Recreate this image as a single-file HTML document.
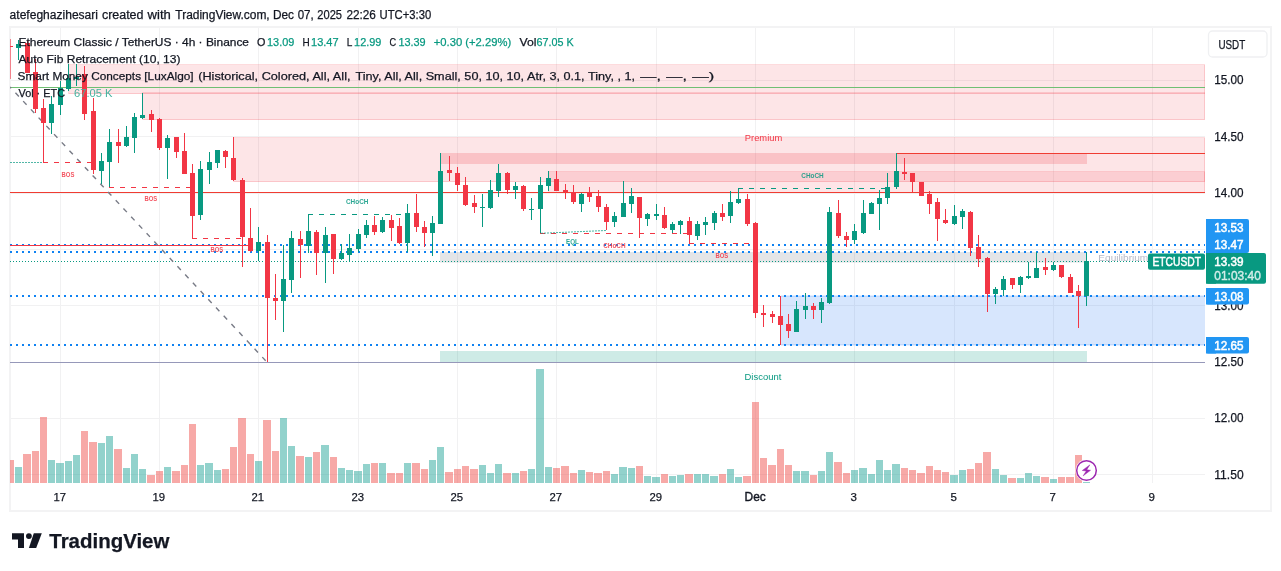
<!DOCTYPE html>
<html lang="en"><head><meta charset="utf-8"><title>ETCUSDT chart</title>
<style>html,body{margin:0;padding:0;background:#fff;width:1281px;height:571px;overflow:hidden}svg{display:block;will-change:transform}text{white-space:pre}</style>
</head><body>
<svg width="1281" height="571" viewBox="0 0 1281 571" style="display:block">
<rect x="0" y="0" width="1281" height="571" fill="#ffffff"/>
<rect x="10" y="27" width="1261" height="484" fill="none" stroke="#f3f3f4" stroke-width="2" shape-rendering="crispEdges"/>
<defs><clipPath id="pane"><rect x="10" y="27" width="1195" height="456"/></clipPath><clipPath id="pane2"><rect x="10" y="27" width="1195" height="456"/></clipPath></defs>
<g shape-rendering="crispEdges" stroke="#f1f1f2" stroke-width="1">
<line x1="60.5" y1="28" x2="60.5" y2="483"/>
<line x1="159.5" y1="28" x2="159.5" y2="483"/>
<line x1="258.5" y1="28" x2="258.5" y2="483"/>
<line x1="358.5" y1="28" x2="358.5" y2="483"/>
<line x1="457.5" y1="28" x2="457.5" y2="483"/>
<line x1="556.5" y1="28" x2="556.5" y2="483"/>
<line x1="656.5" y1="28" x2="656.5" y2="483"/>
<line x1="755.5" y1="28" x2="755.5" y2="483"/>
<line x1="854.5" y1="28" x2="854.5" y2="483"/>
<line x1="954.5" y1="28" x2="954.5" y2="483"/>
<line x1="1053.5" y1="28" x2="1053.5" y2="483"/>
<line x1="1152.5" y1="28" x2="1152.5" y2="483"/>
<line x1="11" y1="80.5" x2="1205" y2="80.5"/>
<line x1="11" y1="136.5" x2="1205" y2="136.5"/>
<line x1="11" y1="193.5" x2="1205" y2="193.5"/>
<line x1="11" y1="249.5" x2="1205" y2="249.5"/>
<line x1="11" y1="305.5" x2="1205" y2="305.5"/>
<line x1="11" y1="362.5" x2="1205" y2="362.5"/>
<line x1="11" y1="418.5" x2="1205" y2="418.5"/>
<line x1="11" y1="474.5" x2="1205" y2="474.5"/>
</g>
<g shape-rendering="crispEdges">
<rect x="10" y="460" width="4" height="23" fill="#ef5350" fill-opacity="0.5"/>
<rect x="15" y="467" width="7" height="16" fill="#26a69a" fill-opacity="0.5"/>
<rect x="23" y="454" width="8" height="29" fill="#ef5350" fill-opacity="0.5"/>
<rect x="32" y="451" width="7" height="32" fill="#ef5350" fill-opacity="0.5"/>
<rect x="40" y="417" width="7" height="66" fill="#ef5350" fill-opacity="0.5"/>
<rect x="48" y="460" width="7" height="23" fill="#26a69a" fill-opacity="0.5"/>
<rect x="56" y="463" width="8" height="20" fill="#26a69a" fill-opacity="0.5"/>
<rect x="65" y="461" width="7" height="22" fill="#26a69a" fill-opacity="0.5"/>
<rect x="73" y="455" width="7" height="28" fill="#26a69a" fill-opacity="0.5"/>
<rect x="81" y="431" width="7" height="52" fill="#ef5350" fill-opacity="0.5"/>
<rect x="89" y="442" width="8" height="41" fill="#ef5350" fill-opacity="0.5"/>
<rect x="98" y="443" width="7" height="40" fill="#26a69a" fill-opacity="0.5"/>
<rect x="106" y="436" width="7" height="47" fill="#26a69a" fill-opacity="0.5"/>
<rect x="114" y="449" width="8" height="34" fill="#ef5350" fill-opacity="0.5"/>
<rect x="123" y="468" width="7" height="15" fill="#26a69a" fill-opacity="0.5"/>
<rect x="131" y="454" width="7" height="29" fill="#26a69a" fill-opacity="0.5"/>
<rect x="139" y="469" width="7" height="14" fill="#26a69a" fill-opacity="0.5"/>
<rect x="147" y="475" width="8" height="8" fill="#ef5350" fill-opacity="0.5"/>
<rect x="156" y="471" width="7" height="12" fill="#ef5350" fill-opacity="0.5"/>
<rect x="164" y="467" width="7" height="16" fill="#26a69a" fill-opacity="0.5"/>
<rect x="172" y="471" width="8" height="12" fill="#ef5350" fill-opacity="0.5"/>
<rect x="181" y="465" width="7" height="18" fill="#ef5350" fill-opacity="0.5"/>
<rect x="189" y="424" width="7" height="59" fill="#ef5350" fill-opacity="0.5"/>
<rect x="197" y="465" width="7" height="18" fill="#26a69a" fill-opacity="0.5"/>
<rect x="205" y="463" width="8" height="20" fill="#26a69a" fill-opacity="0.5"/>
<rect x="214" y="470" width="7" height="13" fill="#26a69a" fill-opacity="0.5"/>
<rect x="222" y="469" width="7" height="14" fill="#ef5350" fill-opacity="0.5"/>
<rect x="230" y="447" width="7" height="36" fill="#ef5350" fill-opacity="0.5"/>
<rect x="238" y="418" width="8" height="65" fill="#ef5350" fill-opacity="0.5"/>
<rect x="247" y="454" width="7" height="29" fill="#ef5350" fill-opacity="0.5"/>
<rect x="255" y="461" width="7" height="22" fill="#26a69a" fill-opacity="0.5"/>
<rect x="263" y="420" width="8" height="63" fill="#ef5350" fill-opacity="0.5"/>
<rect x="272" y="451" width="7" height="32" fill="#ef5350" fill-opacity="0.5"/>
<rect x="280" y="418" width="7" height="65" fill="#26a69a" fill-opacity="0.5"/>
<rect x="288" y="446" width="7" height="37" fill="#26a69a" fill-opacity="0.5"/>
<rect x="296" y="456" width="8" height="27" fill="#ef5350" fill-opacity="0.5"/>
<rect x="305" y="457" width="7" height="26" fill="#26a69a" fill-opacity="0.5"/>
<rect x="313" y="452" width="7" height="31" fill="#ef5350" fill-opacity="0.5"/>
<rect x="321" y="445" width="8" height="38" fill="#26a69a" fill-opacity="0.5"/>
<rect x="330" y="457" width="7" height="26" fill="#ef5350" fill-opacity="0.5"/>
<rect x="338" y="468" width="7" height="15" fill="#26a69a" fill-opacity="0.5"/>
<rect x="346" y="470" width="7" height="13" fill="#26a69a" fill-opacity="0.5"/>
<rect x="354" y="471" width="8" height="12" fill="#26a69a" fill-opacity="0.5"/>
<rect x="363" y="464" width="7" height="19" fill="#26a69a" fill-opacity="0.5"/>
<rect x="371" y="463" width="7" height="20" fill="#ef5350" fill-opacity="0.5"/>
<rect x="379" y="463" width="7" height="20" fill="#26a69a" fill-opacity="0.5"/>
<rect x="387" y="473" width="8" height="10" fill="#ef5350" fill-opacity="0.5"/>
<rect x="396" y="473" width="7" height="10" fill="#ef5350" fill-opacity="0.5"/>
<rect x="404" y="463" width="7" height="20" fill="#26a69a" fill-opacity="0.5"/>
<rect x="412" y="463" width="8" height="20" fill="#ef5350" fill-opacity="0.5"/>
<rect x="421" y="469" width="7" height="14" fill="#ef5350" fill-opacity="0.5"/>
<rect x="429" y="460" width="7" height="23" fill="#26a69a" fill-opacity="0.5"/>
<rect x="437" y="447" width="7" height="36" fill="#26a69a" fill-opacity="0.5"/>
<rect x="445" y="472" width="8" height="11" fill="#ef5350" fill-opacity="0.5"/>
<rect x="454" y="469" width="7" height="14" fill="#ef5350" fill-opacity="0.5"/>
<rect x="462" y="466" width="7" height="17" fill="#ef5350" fill-opacity="0.5"/>
<rect x="470" y="469" width="8" height="14" fill="#ef5350" fill-opacity="0.5"/>
<rect x="479" y="465" width="7" height="18" fill="#26a69a" fill-opacity="0.5"/>
<rect x="487" y="473" width="7" height="10" fill="#26a69a" fill-opacity="0.5"/>
<rect x="495" y="464" width="7" height="19" fill="#26a69a" fill-opacity="0.5"/>
<rect x="503" y="473" width="8" height="10" fill="#ef5350" fill-opacity="0.5"/>
<rect x="512" y="473" width="7" height="10" fill="#26a69a" fill-opacity="0.5"/>
<rect x="520" y="471" width="7" height="12" fill="#ef5350" fill-opacity="0.5"/>
<rect x="528" y="469" width="7" height="14" fill="#26a69a" fill-opacity="0.5"/>
<rect x="536" y="369" width="8" height="114" fill="#26a69a" fill-opacity="0.5"/>
<rect x="545" y="467" width="7" height="16" fill="#26a69a" fill-opacity="0.5"/>
<rect x="553" y="468" width="7" height="15" fill="#ef5350" fill-opacity="0.5"/>
<rect x="561" y="466" width="8" height="17" fill="#ef5350" fill-opacity="0.5"/>
<rect x="570" y="473" width="7" height="10" fill="#ef5350" fill-opacity="0.5"/>
<rect x="578" y="470" width="7" height="13" fill="#26a69a" fill-opacity="0.5"/>
<rect x="586" y="472" width="7" height="11" fill="#ef5350" fill-opacity="0.5"/>
<rect x="594" y="473" width="8" height="10" fill="#ef5350" fill-opacity="0.5"/>
<rect x="603" y="471" width="7" height="12" fill="#ef5350" fill-opacity="0.5"/>
<rect x="611" y="474" width="7" height="9" fill="#26a69a" fill-opacity="0.5"/>
<rect x="619" y="467" width="8" height="16" fill="#26a69a" fill-opacity="0.5"/>
<rect x="628" y="468" width="7" height="15" fill="#26a69a" fill-opacity="0.5"/>
<rect x="636" y="466" width="7" height="17" fill="#ef5350" fill-opacity="0.5"/>
<rect x="644" y="476" width="7" height="7" fill="#26a69a" fill-opacity="0.5"/>
<rect x="652" y="477" width="8" height="6" fill="#26a69a" fill-opacity="0.5"/>
<rect x="661" y="474" width="7" height="9" fill="#ef5350" fill-opacity="0.5"/>
<rect x="669" y="476" width="7" height="7" fill="#26a69a" fill-opacity="0.5"/>
<rect x="677" y="475" width="7" height="8" fill="#26a69a" fill-opacity="0.5"/>
<rect x="685" y="474" width="8" height="9" fill="#ef5350" fill-opacity="0.5"/>
<rect x="694" y="474" width="7" height="9" fill="#26a69a" fill-opacity="0.5"/>
<rect x="702" y="474" width="7" height="9" fill="#26a69a" fill-opacity="0.5"/>
<rect x="710" y="476" width="8" height="7" fill="#26a69a" fill-opacity="0.5"/>
<rect x="719" y="474" width="7" height="9" fill="#ef5350" fill-opacity="0.5"/>
<rect x="727" y="469" width="7" height="14" fill="#26a69a" fill-opacity="0.5"/>
<rect x="735" y="477" width="7" height="6" fill="#26a69a" fill-opacity="0.5"/>
<rect x="743" y="476" width="8" height="7" fill="#ef5350" fill-opacity="0.5"/>
<rect x="752" y="402" width="7" height="81" fill="#ef5350" fill-opacity="0.5"/>
<rect x="760" y="458" width="7" height="25" fill="#ef5350" fill-opacity="0.5"/>
<rect x="768" y="465" width="8" height="18" fill="#ef5350" fill-opacity="0.5"/>
<rect x="777" y="449" width="7" height="34" fill="#ef5350" fill-opacity="0.5"/>
<rect x="785" y="465" width="7" height="18" fill="#ef5350" fill-opacity="0.5"/>
<rect x="793" y="471" width="7" height="12" fill="#26a69a" fill-opacity="0.5"/>
<rect x="801" y="471" width="8" height="12" fill="#26a69a" fill-opacity="0.5"/>
<rect x="810" y="475" width="7" height="8" fill="#ef5350" fill-opacity="0.5"/>
<rect x="818" y="471" width="7" height="12" fill="#26a69a" fill-opacity="0.5"/>
<rect x="826" y="452" width="7" height="31" fill="#26a69a" fill-opacity="0.5"/>
<rect x="834" y="462" width="8" height="21" fill="#ef5350" fill-opacity="0.5"/>
<rect x="843" y="473" width="7" height="10" fill="#ef5350" fill-opacity="0.5"/>
<rect x="851" y="470" width="7" height="13" fill="#26a69a" fill-opacity="0.5"/>
<rect x="859" y="468" width="8" height="15" fill="#26a69a" fill-opacity="0.5"/>
<rect x="868" y="474" width="7" height="9" fill="#26a69a" fill-opacity="0.5"/>
<rect x="876" y="460" width="7" height="23" fill="#26a69a" fill-opacity="0.5"/>
<rect x="884" y="470" width="7" height="13" fill="#26a69a" fill-opacity="0.5"/>
<rect x="892" y="464" width="8" height="19" fill="#26a69a" fill-opacity="0.5"/>
<rect x="901" y="468" width="7" height="15" fill="#ef5350" fill-opacity="0.5"/>
<rect x="909" y="470" width="7" height="13" fill="#ef5350" fill-opacity="0.5"/>
<rect x="917" y="473" width="8" height="10" fill="#ef5350" fill-opacity="0.5"/>
<rect x="926" y="466" width="7" height="17" fill="#ef5350" fill-opacity="0.5"/>
<rect x="934" y="470" width="7" height="13" fill="#ef5350" fill-opacity="0.5"/>
<rect x="942" y="472" width="7" height="11" fill="#ef5350" fill-opacity="0.5"/>
<rect x="950" y="475" width="8" height="8" fill="#26a69a" fill-opacity="0.5"/>
<rect x="959" y="470" width="7" height="13" fill="#26a69a" fill-opacity="0.5"/>
<rect x="967" y="469" width="7" height="14" fill="#ef5350" fill-opacity="0.5"/>
<rect x="975" y="463" width="7" height="20" fill="#ef5350" fill-opacity="0.5"/>
<rect x="983" y="452" width="8" height="31" fill="#ef5350" fill-opacity="0.5"/>
<rect x="992" y="469" width="7" height="14" fill="#26a69a" fill-opacity="0.5"/>
<rect x="1000" y="475" width="7" height="8" fill="#26a69a" fill-opacity="0.5"/>
<rect x="1008" y="478" width="8" height="5" fill="#ef5350" fill-opacity="0.5"/>
<rect x="1017" y="478" width="7" height="5" fill="#26a69a" fill-opacity="0.5"/>
<rect x="1025" y="473" width="7" height="10" fill="#26a69a" fill-opacity="0.5"/>
<rect x="1033" y="476" width="7" height="7" fill="#26a69a" fill-opacity="0.5"/>
<rect x="1041" y="477" width="8" height="6" fill="#ef5350" fill-opacity="0.5"/>
<rect x="1050" y="479" width="7" height="4" fill="#26a69a" fill-opacity="0.5"/>
<rect x="1058" y="477" width="7" height="6" fill="#ef5350" fill-opacity="0.5"/>
<rect x="1066" y="477" width="8" height="6" fill="#ef5350" fill-opacity="0.5"/>
<rect x="1075" y="455" width="7" height="28" fill="#ef5350" fill-opacity="0.5"/>
<rect x="1083" y="482" width="7" height="1" fill="#26a69a" fill-opacity="0.5"/>
</g>
<g shape-rendering="crispEdges">
<rect x="68.5" y="64.5" width="1136" height="29" fill="#f23645" fill-opacity="0.13" stroke="#f23645" stroke-opacity="0.18" stroke-width="1"/>
<rect x="142.5" y="92.5" width="1062" height="27" fill="#f23645" fill-opacity="0.13" stroke="#f23645" stroke-opacity="0.18" stroke-width="1"/>
<rect x="233.5" y="137.5" width="971" height="44" fill="#f23645" fill-opacity="0.13" stroke="#f23645" stroke-opacity="0.18" stroke-width="1"/>
<rect x="548.5" y="171.5" width="656" height="21" fill="#f23645" fill-opacity="0.13" stroke="#f23645" stroke-opacity="0.18" stroke-width="1"/>
<rect x="440" y="153" width="647" height="11" fill="#f23645" fill-opacity="0.2"/>
<rect x="440" y="252" width="646" height="10.6" fill="#787b86" fill-opacity="0.2" shape-rendering="auto"/>
<rect x="440" y="351" width="647" height="11" fill="#089981" fill-opacity="0.2"/>
<rect x="781" y="296" width="424" height="49" fill="#2175f3" fill-opacity="0.18"/>
<rect x="781" y="295" width="424" height="2" fill="#2175f3" fill-opacity="0.12"/>
<rect x="781" y="344" width="424" height="2" fill="#2175f3" fill-opacity="0.12"/>
</g>
<g shape-rendering="crispEdges" fill="none">
<line x1="10" y1="87.5" x2="1205" y2="87.5" stroke="#6fbf73" stroke-width="1"/>
<line x1="10" y1="192.5" x2="1205" y2="192.5" stroke="#f03c32" stroke-width="1"/>
<line x1="896" y1="153.5" x2="1205" y2="153.5" stroke="#f03c32" stroke-width="1"/>
<line x1="10" y1="362.5" x2="1205" y2="362.5" stroke="#9698b9" stroke-width="1"/>
<line x1="10" y1="245" x2="1205" y2="245" stroke="#0f82f2" stroke-width="2" stroke-dasharray="2 4"/>
<line x1="10" y1="252" x2="1205" y2="252" stroke="#0f82f2" stroke-width="2" stroke-dasharray="2 4"/>
<line x1="10" y1="296" x2="1205" y2="296" stroke="#0f82f2" stroke-width="2" stroke-dasharray="2 4"/>
<line x1="10" y1="345" x2="1205" y2="345" stroke="#0f82f2" stroke-width="2" stroke-dasharray="2 4"/>
<line x1="10" y1="245.5" x2="248" y2="245.5" stroke="#f23645" stroke-width="1"/>
<line x1="10" y1="261.5" x2="1205" y2="261.5" stroke="#089981" stroke-width="1" stroke-dasharray="1 2"/>
<line x1="10" y1="162.5" x2="43" y2="162.5" stroke="#089981" stroke-opacity="0.7" stroke-width="1" stroke-dasharray="2 1"/>
</g>
<line x1="10" y1="87" x2="267.5" y2="362.7" stroke="#787b86" stroke-width="1.4" stroke-dasharray="5 6.3" stroke-dashoffset="3.3" clip-path="url(#pane)"/>
<g fill="none" stroke-width="1" shape-rendering="crispEdges">
<line x1="43" y1="162.5" x2="91" y2="162.5" stroke="#f23645" stroke-dasharray="5 6"/>
<line x1="109" y1="187.5" x2="192" y2="187.5" stroke="#f23645" stroke-dasharray="5 6"/>
<line x1="192" y1="238.5" x2="242" y2="238.5" stroke="#f23645" stroke-dasharray="5 6"/>
<line x1="308" y1="214.5" x2="407" y2="214.5" stroke="#089981" stroke-dasharray="5 6"/>
<line x1="540" y1="233.5" x2="689" y2="233.5" stroke="#f23645" stroke-dasharray="5 6"/>
<line x1="689" y1="243.5" x2="755" y2="243.5" stroke="#f23645" stroke-dasharray="5 6"/>
<line x1="738" y1="188.5" x2="887" y2="188.5" stroke="#089981" stroke-dasharray="5 6"/>
</g>
<line x1="541" y1="233.3" x2="606" y2="230.5" stroke="#089981" stroke-opacity="0.75" stroke-width="1" stroke-dasharray="2 1"/>
<g shape-rendering="crispEdges" clip-path="url(#pane2)">
<rect x="10" y="39" width="1" height="40" fill="#f23645" fill-opacity="0.6"/>
<rect x="8" y="46" width="5" height="1" fill="#f23645"/>
<rect x="18" y="40" width="1" height="20" fill="#089981"/>
<rect x="16" y="44" width="5" height="4" fill="#089981"/>
<rect x="27" y="41" width="1" height="32" fill="#f23645"/>
<rect x="25" y="43" width="5" height="30" fill="#f23645"/>
<rect x="35" y="59" width="1" height="54" fill="#f23645"/>
<rect x="33" y="72" width="5" height="37" fill="#f23645"/>
<rect x="43" y="99" width="1" height="63" fill="#f23645"/>
<rect x="41" y="108" width="5" height="15" fill="#f23645"/>
<rect x="51" y="96" width="1" height="38" fill="#089981"/>
<rect x="49" y="104" width="5" height="19" fill="#089981"/>
<rect x="60" y="81" width="1" height="34" fill="#089981"/>
<rect x="58" y="88" width="5" height="17" fill="#089981"/>
<rect x="68" y="64" width="1" height="27" fill="#089981"/>
<rect x="66" y="78" width="5" height="11" fill="#089981"/>
<rect x="76" y="64" width="1" height="22" fill="#089981"/>
<rect x="74" y="77" width="5" height="2" fill="#089981"/>
<rect x="84" y="66" width="1" height="54" fill="#f23645"/>
<rect x="82" y="74" width="5" height="40" fill="#f23645"/>
<rect x="93" y="98" width="1" height="76" fill="#f23645"/>
<rect x="91" y="111" width="5" height="59" fill="#f23645"/>
<rect x="101" y="153" width="1" height="31" fill="#089981"/>
<rect x="99" y="161" width="5" height="10" fill="#089981"/>
<rect x="109" y="129" width="1" height="58" fill="#089981"/>
<rect x="107" y="142" width="5" height="20" fill="#089981"/>
<rect x="118" y="129" width="1" height="34" fill="#f23645"/>
<rect x="116" y="142" width="5" height="4" fill="#f23645"/>
<rect x="126" y="126" width="1" height="21" fill="#089981"/>
<rect x="124" y="137" width="5" height="9" fill="#089981"/>
<rect x="134" y="113" width="1" height="40" fill="#089981"/>
<rect x="132" y="117" width="5" height="21" fill="#089981"/>
<rect x="142" y="93" width="1" height="26" fill="#089981"/>
<rect x="140" y="115" width="5" height="3" fill="#089981"/>
<rect x="151" y="110" width="1" height="22" fill="#f23645"/>
<rect x="149" y="114" width="5" height="6" fill="#f23645"/>
<rect x="159" y="118" width="1" height="32" fill="#f23645"/>
<rect x="157" y="119" width="5" height="29" fill="#f23645"/>
<rect x="167" y="135" width="1" height="44" fill="#089981"/>
<rect x="165" y="138" width="5" height="10" fill="#089981"/>
<rect x="176" y="137" width="1" height="21" fill="#f23645"/>
<rect x="174" y="137" width="5" height="15" fill="#f23645"/>
<rect x="184" y="133" width="1" height="41" fill="#f23645"/>
<rect x="182" y="151" width="5" height="23" fill="#f23645"/>
<rect x="192" y="164" width="1" height="74" fill="#f23645"/>
<rect x="190" y="173" width="5" height="43" fill="#f23645"/>
<rect x="200" y="161" width="1" height="59" fill="#089981"/>
<rect x="198" y="169" width="5" height="46" fill="#089981"/>
<rect x="209" y="152" width="1" height="32" fill="#089981"/>
<rect x="207" y="162" width="5" height="8" fill="#089981"/>
<rect x="217" y="150" width="1" height="18" fill="#089981"/>
<rect x="215" y="150" width="5" height="13" fill="#089981"/>
<rect x="225" y="150" width="1" height="18" fill="#f23645"/>
<rect x="223" y="151" width="5" height="6" fill="#f23645"/>
<rect x="233" y="137" width="1" height="44" fill="#f23645"/>
<rect x="231" y="158" width="5" height="22" fill="#f23645"/>
<rect x="242" y="178" width="1" height="89" fill="#f23645"/>
<rect x="240" y="180" width="5" height="57" fill="#f23645"/>
<rect x="250" y="208" width="1" height="44" fill="#f23645"/>
<rect x="248" y="238" width="5" height="13" fill="#f23645"/>
<rect x="258" y="227" width="1" height="34" fill="#089981"/>
<rect x="256" y="242" width="5" height="9" fill="#089981"/>
<rect x="267" y="235" width="1" height="127" fill="#f23645"/>
<rect x="265" y="242" width="5" height="56" fill="#f23645"/>
<rect x="275" y="274" width="1" height="46" fill="#f23645"/>
<rect x="273" y="298" width="5" height="3" fill="#f23645"/>
<rect x="283" y="245" width="1" height="87" fill="#089981"/>
<rect x="281" y="279" width="5" height="22" fill="#089981"/>
<rect x="291" y="231" width="1" height="62" fill="#089981"/>
<rect x="289" y="238" width="5" height="42" fill="#089981"/>
<rect x="300" y="231" width="1" height="47" fill="#f23645"/>
<rect x="298" y="239" width="5" height="6" fill="#f23645"/>
<rect x="308" y="214" width="1" height="39" fill="#089981"/>
<rect x="306" y="231" width="5" height="15" fill="#089981"/>
<rect x="316" y="230" width="1" height="45" fill="#f23645"/>
<rect x="314" y="232" width="5" height="21" fill="#f23645"/>
<rect x="325" y="227" width="1" height="56" fill="#089981"/>
<rect x="323" y="235" width="5" height="18" fill="#089981"/>
<rect x="333" y="234" width="1" height="40" fill="#f23645"/>
<rect x="331" y="234" width="5" height="25" fill="#f23645"/>
<rect x="341" y="244" width="1" height="16" fill="#089981"/>
<rect x="339" y="253" width="5" height="6" fill="#089981"/>
<rect x="349" y="234" width="1" height="28" fill="#089981"/>
<rect x="347" y="248" width="5" height="7" fill="#089981"/>
<rect x="358" y="229" width="1" height="23" fill="#089981"/>
<rect x="356" y="234" width="5" height="15" fill="#089981"/>
<rect x="366" y="220" width="1" height="18" fill="#089981"/>
<rect x="364" y="225" width="5" height="10" fill="#089981"/>
<rect x="374" y="216" width="1" height="19" fill="#f23645"/>
<rect x="372" y="225" width="5" height="7" fill="#f23645"/>
<rect x="382" y="217" width="1" height="16" fill="#089981"/>
<rect x="380" y="220" width="5" height="12" fill="#089981"/>
<rect x="391" y="215" width="1" height="26" fill="#f23645"/>
<rect x="389" y="220" width="5" height="8" fill="#f23645"/>
<rect x="399" y="218" width="1" height="26" fill="#f23645"/>
<rect x="397" y="226" width="5" height="17" fill="#f23645"/>
<rect x="407" y="204" width="1" height="48" fill="#089981"/>
<rect x="405" y="213" width="5" height="30" fill="#089981"/>
<rect x="416" y="194" width="1" height="38" fill="#f23645"/>
<rect x="414" y="213" width="5" height="14" fill="#f23645"/>
<rect x="424" y="221" width="1" height="26" fill="#f23645"/>
<rect x="422" y="227" width="5" height="6" fill="#f23645"/>
<rect x="432" y="216" width="1" height="40" fill="#089981"/>
<rect x="430" y="223" width="5" height="10" fill="#089981"/>
<rect x="440" y="153" width="1" height="71" fill="#089981"/>
<rect x="438" y="171" width="5" height="53" fill="#089981"/>
<rect x="449" y="156" width="1" height="25" fill="#f23645"/>
<rect x="447" y="170" width="5" height="3" fill="#f23645"/>
<rect x="457" y="167" width="1" height="24" fill="#f23645"/>
<rect x="455" y="173" width="5" height="12" fill="#f23645"/>
<rect x="465" y="177" width="1" height="29" fill="#f23645"/>
<rect x="463" y="185" width="5" height="20" fill="#f23645"/>
<rect x="474" y="195" width="1" height="18" fill="#f23645"/>
<rect x="472" y="203" width="5" height="4" fill="#f23645"/>
<rect x="482" y="194" width="1" height="33" fill="#089981"/>
<rect x="480" y="207" width="5" height="1" fill="#089981"/>
<rect x="490" y="180" width="1" height="29" fill="#089981"/>
<rect x="488" y="190" width="5" height="18" fill="#089981"/>
<rect x="498" y="164" width="1" height="33" fill="#089981"/>
<rect x="496" y="173" width="5" height="18" fill="#089981"/>
<rect x="507" y="172" width="1" height="22" fill="#f23645"/>
<rect x="505" y="173" width="5" height="17" fill="#f23645"/>
<rect x="515" y="182" width="1" height="17" fill="#089981"/>
<rect x="513" y="186" width="5" height="4" fill="#089981"/>
<rect x="523" y="185" width="1" height="26" fill="#f23645"/>
<rect x="521" y="186" width="5" height="23" fill="#f23645"/>
<rect x="531" y="198" width="1" height="22" fill="#089981"/>
<rect x="529" y="209" width="5" height="1" fill="#089981"/>
<rect x="540" y="177" width="1" height="56" fill="#089981"/>
<rect x="538" y="185" width="5" height="24" fill="#089981"/>
<rect x="548" y="171" width="1" height="20" fill="#089981"/>
<rect x="546" y="178" width="5" height="8" fill="#089981"/>
<rect x="556" y="171" width="1" height="20" fill="#f23645"/>
<rect x="554" y="179" width="5" height="12" fill="#f23645"/>
<rect x="565" y="184" width="1" height="15" fill="#f23645"/>
<rect x="563" y="190" width="5" height="2" fill="#f23645"/>
<rect x="573" y="185" width="1" height="19" fill="#f23645"/>
<rect x="571" y="192" width="5" height="10" fill="#f23645"/>
<rect x="581" y="193" width="1" height="19" fill="#089981"/>
<rect x="579" y="194" width="5" height="10" fill="#089981"/>
<rect x="589" y="187" width="1" height="15" fill="#f23645"/>
<rect x="587" y="192" width="5" height="5" fill="#f23645"/>
<rect x="598" y="190" width="1" height="22" fill="#f23645"/>
<rect x="596" y="196" width="5" height="11" fill="#f23645"/>
<rect x="606" y="204" width="1" height="26" fill="#f23645"/>
<rect x="604" y="207" width="5" height="15" fill="#f23645"/>
<rect x="614" y="212" width="1" height="15" fill="#089981"/>
<rect x="612" y="216" width="5" height="6" fill="#089981"/>
<rect x="623" y="181" width="1" height="36" fill="#089981"/>
<rect x="621" y="203" width="5" height="14" fill="#089981"/>
<rect x="631" y="188" width="1" height="25" fill="#089981"/>
<rect x="629" y="196" width="5" height="8" fill="#089981"/>
<rect x="639" y="197" width="1" height="41" fill="#f23645"/>
<rect x="637" y="197" width="5" height="21" fill="#f23645"/>
<rect x="647" y="213" width="1" height="13" fill="#089981"/>
<rect x="645" y="214" width="5" height="5" fill="#089981"/>
<rect x="656" y="204" width="1" height="16" fill="#089981"/>
<rect x="654" y="214" width="5" height="2" fill="#089981"/>
<rect x="664" y="207" width="1" height="22" fill="#f23645"/>
<rect x="662" y="215" width="5" height="13" fill="#f23645"/>
<rect x="672" y="222" width="1" height="11" fill="#089981"/>
<rect x="670" y="224" width="5" height="6" fill="#089981"/>
<rect x="680" y="220" width="1" height="14" fill="#089981"/>
<rect x="678" y="221" width="5" height="4" fill="#089981"/>
<rect x="689" y="217" width="1" height="26" fill="#f23645"/>
<rect x="687" y="221" width="5" height="14" fill="#f23645"/>
<rect x="697" y="221" width="1" height="19" fill="#089981"/>
<rect x="695" y="224" width="5" height="12" fill="#089981"/>
<rect x="705" y="217" width="1" height="18" fill="#089981"/>
<rect x="703" y="222" width="5" height="3" fill="#089981"/>
<rect x="714" y="211" width="1" height="19" fill="#089981"/>
<rect x="712" y="213" width="5" height="10" fill="#089981"/>
<rect x="722" y="204" width="1" height="17" fill="#f23645"/>
<rect x="720" y="213" width="5" height="4" fill="#f23645"/>
<rect x="730" y="191" width="1" height="32" fill="#089981"/>
<rect x="728" y="202" width="5" height="14" fill="#089981"/>
<rect x="738" y="188" width="1" height="16" fill="#089981"/>
<rect x="736" y="199" width="5" height="4" fill="#089981"/>
<rect x="747" y="194" width="1" height="32" fill="#f23645"/>
<rect x="745" y="199" width="5" height="25" fill="#f23645"/>
<rect x="755" y="222" width="1" height="96" fill="#f23645"/>
<rect x="753" y="223" width="5" height="90" fill="#f23645"/>
<rect x="763" y="305" width="1" height="22" fill="#f23645"/>
<rect x="761" y="313" width="5" height="2" fill="#f23645"/>
<rect x="772" y="311" width="1" height="12" fill="#f23645"/>
<rect x="770" y="314" width="5" height="3" fill="#f23645"/>
<rect x="780" y="296" width="1" height="49" fill="#f23645"/>
<rect x="778" y="316" width="5" height="9" fill="#f23645"/>
<rect x="788" y="314" width="1" height="24" fill="#f23645"/>
<rect x="786" y="324" width="5" height="7" fill="#f23645"/>
<rect x="796" y="301" width="1" height="31" fill="#089981"/>
<rect x="794" y="309" width="5" height="23" fill="#089981"/>
<rect x="805" y="293" width="1" height="26" fill="#089981"/>
<rect x="803" y="306" width="5" height="4" fill="#089981"/>
<rect x="813" y="303" width="1" height="16" fill="#f23645"/>
<rect x="811" y="306" width="5" height="4" fill="#f23645"/>
<rect x="821" y="298" width="1" height="25" fill="#089981"/>
<rect x="819" y="302" width="5" height="8" fill="#089981"/>
<rect x="829" y="207" width="1" height="97" fill="#089981"/>
<rect x="827" y="212" width="5" height="91" fill="#089981"/>
<rect x="838" y="200" width="1" height="38" fill="#f23645"/>
<rect x="836" y="213" width="5" height="23" fill="#f23645"/>
<rect x="846" y="232" width="1" height="15" fill="#f23645"/>
<rect x="844" y="236" width="5" height="4" fill="#f23645"/>
<rect x="854" y="224" width="1" height="20" fill="#089981"/>
<rect x="852" y="231" width="5" height="9" fill="#089981"/>
<rect x="863" y="200" width="1" height="34" fill="#089981"/>
<rect x="861" y="213" width="5" height="20" fill="#089981"/>
<rect x="871" y="202" width="1" height="12" fill="#089981"/>
<rect x="869" y="203" width="5" height="11" fill="#089981"/>
<rect x="879" y="190" width="1" height="40" fill="#089981"/>
<rect x="877" y="198" width="5" height="6" fill="#089981"/>
<rect x="887" y="173" width="1" height="31" fill="#089981"/>
<rect x="885" y="187" width="5" height="11" fill="#089981"/>
<rect x="896" y="153" width="1" height="36" fill="#089981"/>
<rect x="894" y="171" width="5" height="16" fill="#089981"/>
<rect x="904" y="158" width="1" height="22" fill="#f23645"/>
<rect x="902" y="172" width="5" height="2" fill="#f23645"/>
<rect x="912" y="173" width="1" height="19" fill="#f23645"/>
<rect x="910" y="173" width="5" height="9" fill="#f23645"/>
<rect x="921" y="182" width="1" height="14" fill="#f23645"/>
<rect x="919" y="182" width="5" height="14" fill="#f23645"/>
<rect x="929" y="191" width="1" height="23" fill="#f23645"/>
<rect x="927" y="194" width="5" height="10" fill="#f23645"/>
<rect x="937" y="198" width="1" height="43" fill="#f23645"/>
<rect x="935" y="202" width="5" height="17" fill="#f23645"/>
<rect x="945" y="209" width="1" height="15" fill="#f23645"/>
<rect x="943" y="220" width="5" height="3" fill="#f23645"/>
<rect x="954" y="205" width="1" height="20" fill="#089981"/>
<rect x="952" y="216" width="5" height="8" fill="#089981"/>
<rect x="962" y="209" width="1" height="20" fill="#089981"/>
<rect x="960" y="211" width="5" height="6" fill="#089981"/>
<rect x="970" y="211" width="1" height="45" fill="#f23645"/>
<rect x="968" y="212" width="5" height="36" fill="#f23645"/>
<rect x="978" y="235" width="1" height="32" fill="#f23645"/>
<rect x="976" y="247" width="5" height="12" fill="#f23645"/>
<rect x="987" y="257" width="1" height="55" fill="#f23645"/>
<rect x="985" y="258" width="5" height="36" fill="#f23645"/>
<rect x="995" y="287" width="1" height="17" fill="#089981"/>
<rect x="993" y="289" width="5" height="5" fill="#089981"/>
<rect x="1003" y="276" width="1" height="20" fill="#089981"/>
<rect x="1001" y="279" width="5" height="11" fill="#089981"/>
<rect x="1012" y="278" width="1" height="11" fill="#f23645"/>
<rect x="1010" y="278" width="5" height="7" fill="#f23645"/>
<rect x="1020" y="276" width="1" height="17" fill="#089981"/>
<rect x="1018" y="277" width="5" height="8" fill="#089981"/>
<rect x="1028" y="262" width="1" height="17" fill="#089981"/>
<rect x="1026" y="276" width="5" height="2" fill="#089981"/>
<rect x="1036" y="252" width="1" height="26" fill="#089981"/>
<rect x="1034" y="268" width="5" height="10" fill="#089981"/>
<rect x="1045" y="258" width="1" height="17" fill="#f23645"/>
<rect x="1043" y="267" width="5" height="3" fill="#f23645"/>
<rect x="1053" y="262" width="1" height="9" fill="#089981"/>
<rect x="1051" y="265" width="5" height="5" fill="#089981"/>
<rect x="1061" y="265" width="1" height="13" fill="#f23645"/>
<rect x="1059" y="265" width="5" height="12" fill="#f23645"/>
<rect x="1070" y="274" width="1" height="19" fill="#f23645"/>
<rect x="1068" y="277" width="5" height="16" fill="#f23645"/>
<rect x="1078" y="285" width="1" height="43" fill="#f23645"/>
<rect x="1076" y="291" width="5" height="5" fill="#f23645"/>
<rect x="1086" y="252" width="1" height="54" fill="#089981"/>
<rect x="1084" y="261" width="5" height="35" fill="#089981"/>
</g>
<g font-family="Liberation Sans, Arial, sans-serif">
<text x="68" y="177.1" font-size="7" fill="#f23645" font-weight="bold" text-anchor="middle" textLength="12.8" lengthAdjust="spacingAndGlyphs" fill-opacity="0.85">BOS</text>
<text x="150.9" y="201" font-size="7" fill="#f23645" font-weight="bold" text-anchor="middle" textLength="12.8" lengthAdjust="spacingAndGlyphs" fill-opacity="0.85">BOS</text>
<text x="216.8" y="252" font-size="7" fill="#f23645" font-weight="bold" text-anchor="middle" textLength="12.8" lengthAdjust="spacingAndGlyphs" fill-opacity="0.85">BOS</text>
<text x="721.8" y="257.8" font-size="7" fill="#f23645" font-weight="bold" text-anchor="middle" textLength="12.8" lengthAdjust="spacingAndGlyphs" fill-opacity="0.85">BOS</text>
<text x="357.2" y="204.2" font-size="7" fill="#089981" font-weight="bold" text-anchor="middle" textLength="22.4" lengthAdjust="spacingAndGlyphs" fill-opacity="0.85">CHoCH</text>
<text x="812.5" y="178.1" font-size="7" fill="#089981" font-weight="bold" text-anchor="middle" textLength="22.4" lengthAdjust="spacingAndGlyphs" fill-opacity="0.85">CHoCH</text>
<text x="614.4" y="247.7" font-size="7" fill="#f23645" font-weight="bold" text-anchor="middle" textLength="22.4" lengthAdjust="spacingAndGlyphs" fill-opacity="0.85">CHoCH</text>
<text x="572.4" y="244" font-size="7" fill="#089981" font-weight="bold" text-anchor="middle" textLength="12.8" lengthAdjust="spacingAndGlyphs" fill-opacity="0.85">EQL</text>
<text x="744.8" y="140.8" font-size="9.5" fill="#f23645" font-weight="normal" text-anchor="start" textLength="37.4" lengthAdjust="spacingAndGlyphs" >Premium</text>
<text x="744.5" y="380.2" font-size="9.5" fill="#089981" font-weight="normal" text-anchor="start" textLength="36.8" lengthAdjust="spacingAndGlyphs" >Discount</text>
<text x="1098.3" y="260.6" font-size="9" fill="#b6b9c6" font-weight="normal" text-anchor="start" textLength="50" lengthAdjust="spacingAndGlyphs" >Equilibrium</text>
<text x="18.5" y="45.6" font-size="11.5" fill="#131722" font-weight="normal" text-anchor="start" textLength="230.5" lengthAdjust="spacingAndGlyphs"  stroke="#131722" stroke-width="0.25">Ethereum Classic / TetherUS · 4h · Binance</text>
<text x="256.9" y="45.6" font-size="11.5" fill="#131722" font-weight="normal" text-anchor="start" textLength="8.4" lengthAdjust="spacingAndGlyphs"  stroke="#131722" stroke-width="0.25">O</text>
<text x="267" y="45.6" font-size="11.5" fill="#089981" font-weight="normal" text-anchor="start" textLength="27.3" lengthAdjust="spacingAndGlyphs"  stroke="#089981" stroke-width="0.25">13.09</text>
<text x="302.5" y="45.6" font-size="11.5" fill="#131722" font-weight="normal" text-anchor="start" textLength="7.2" lengthAdjust="spacingAndGlyphs"  stroke="#131722" stroke-width="0.25">H</text>
<text x="311" y="45.6" font-size="11.5" fill="#089981" font-weight="normal" text-anchor="start" textLength="27.6" lengthAdjust="spacingAndGlyphs"  stroke="#089981" stroke-width="0.25">13.47</text>
<text x="346.8" y="45.6" font-size="11.5" fill="#131722" font-weight="normal" text-anchor="start" textLength="5.6" lengthAdjust="spacingAndGlyphs"  stroke="#131722" stroke-width="0.25">L</text>
<text x="354.1" y="45.6" font-size="11.5" fill="#089981" font-weight="normal" text-anchor="start" textLength="27.3" lengthAdjust="spacingAndGlyphs"  stroke="#089981" stroke-width="0.25">12.99</text>
<text x="389.6" y="45.6" font-size="11.5" fill="#131722" font-weight="normal" text-anchor="start" textLength="6.6" lengthAdjust="spacingAndGlyphs"  stroke="#131722" stroke-width="0.25">C</text>
<text x="398.4" y="45.6" font-size="11.5" fill="#089981" font-weight="normal" text-anchor="start" textLength="27.3" lengthAdjust="spacingAndGlyphs"  stroke="#089981" stroke-width="0.25">13.39</text>
<text x="433.7" y="45.6" font-size="11.5" fill="#089981" font-weight="normal" text-anchor="start" textLength="77.5" lengthAdjust="spacingAndGlyphs"  stroke="#089981" stroke-width="0.25">+0.30 (+2.29%)</text>
<text x="519.5" y="45.6" font-size="11.5" fill="#131722" font-weight="normal" text-anchor="start" textLength="17" lengthAdjust="spacingAndGlyphs"  stroke="#131722" stroke-width="0.25">Vol</text>
<text x="536.5" y="45.6" font-size="11.5" fill="#089981" font-weight="normal" text-anchor="start" textLength="37.2" lengthAdjust="spacingAndGlyphs"  stroke="#089981" stroke-width="0.25">67.05 K</text>
<text x="18.5" y="62.6" font-size="11.5" fill="#131722" font-weight="normal" text-anchor="start" textLength="162" lengthAdjust="spacingAndGlyphs"  stroke="#131722" stroke-width="0.25">Auto Fib Retracement (10, 13)</text>
<text x="17.6" y="80.1" font-size="11.5" fill="#131722" font-weight="normal" text-anchor="start" textLength="176" lengthAdjust="spacingAndGlyphs"  stroke="#131722" stroke-width="0.25">Smart Money Concepts [LuxAlgo]</text>
<text x="198.2" y="80.1" font-size="11.5" fill="#131722" font-weight="normal" text-anchor="start" textLength="152.3" lengthAdjust="spacingAndGlyphs"  stroke="#131722" stroke-width="0.25">(Historical, Colored, All, All,</text>
<text x="355.4" y="80.1" font-size="11.5" fill="#131722" font-weight="normal" text-anchor="start" textLength="279.6" lengthAdjust="spacingAndGlyphs"  stroke="#131722" stroke-width="0.25">Tiny, All, All, Small, 50, 10, 10, Atr, 3, 0.1, Tiny, , 1,</text>
<text x="640.3" y="80.1" font-size="11.5" fill="#131722" font-weight="normal" text-anchor="start" textLength="20.6" lengthAdjust="spacingAndGlyphs"  stroke="#131722" stroke-width="0.25">—,</text>
<text x="666.3" y="80.1" font-size="11.5" fill="#131722" font-weight="normal" text-anchor="start" textLength="20.6" lengthAdjust="spacingAndGlyphs"  stroke="#131722" stroke-width="0.25">—,</text>
<text x="692.3" y="80.1" font-size="11.5" fill="#131722" font-weight="normal" text-anchor="start" textLength="22" lengthAdjust="spacingAndGlyphs"  stroke="#131722" stroke-width="0.25">—)</text>
<text x="18.5" y="96.8" font-size="11.5" fill="#131722" font-weight="normal" text-anchor="start" textLength="46.5" lengthAdjust="spacingAndGlyphs"  stroke="#131722" stroke-width="0.25">Vol · ETC</text>
<text x="74" y="96.8" font-size="11.5" fill="#47b3a0" font-weight="normal" text-anchor="start" textLength="38.5" lengthAdjust="spacingAndGlyphs" >67.05 K</text>
</g>
<g font-family="Liberation Sans, Arial, sans-serif">
<text x="1214.3" y="83.8" font-size="12" fill="#131722" font-weight="normal" text-anchor="start" textLength="29.3" lengthAdjust="spacingAndGlyphs"  stroke="#131722" stroke-width="0.25">15.00</text>
<text x="1214.3" y="140.70000000000002" font-size="12" fill="#131722" font-weight="normal" text-anchor="start" textLength="29.3" lengthAdjust="spacingAndGlyphs"  stroke="#131722" stroke-width="0.25">14.50</text>
<text x="1214.3" y="196.9" font-size="12" fill="#131722" font-weight="normal" text-anchor="start" textLength="29.3" lengthAdjust="spacingAndGlyphs"  stroke="#131722" stroke-width="0.25">14.00</text>
<text x="1214.3" y="309.7" font-size="12" fill="#131722" font-weight="normal" text-anchor="start" textLength="29.3" lengthAdjust="spacingAndGlyphs"  stroke="#131722" stroke-width="0.25">13.00</text>
<text x="1214.3" y="366.3" font-size="12" fill="#131722" font-weight="normal" text-anchor="start" textLength="29.3" lengthAdjust="spacingAndGlyphs"  stroke="#131722" stroke-width="0.25">12.50</text>
<text x="1214.3" y="422.3" font-size="12" fill="#131722" font-weight="normal" text-anchor="start" textLength="29.3" lengthAdjust="spacingAndGlyphs"  stroke="#131722" stroke-width="0.25">12.00</text>
<text x="1214.3" y="478.90000000000003" font-size="12" fill="#131722" font-weight="normal" text-anchor="start" textLength="29.3" lengthAdjust="spacingAndGlyphs"  stroke="#131722" stroke-width="0.25">11.50</text>
<text x="59.8" y="500.8" font-size="11.5" fill="#131722" font-weight="normal" text-anchor="middle" textLength="12.6" lengthAdjust="spacingAndGlyphs"  stroke="#131722" stroke-width="0.25">17</text>
<text x="158.8" y="500.8" font-size="11.5" fill="#131722" font-weight="normal" text-anchor="middle" textLength="12.6" lengthAdjust="spacingAndGlyphs"  stroke="#131722" stroke-width="0.25">19</text>
<text x="257.8" y="500.8" font-size="11.5" fill="#131722" font-weight="normal" text-anchor="middle" textLength="12.6" lengthAdjust="spacingAndGlyphs"  stroke="#131722" stroke-width="0.25">21</text>
<text x="357.8" y="500.8" font-size="11.5" fill="#131722" font-weight="normal" text-anchor="middle" textLength="12.6" lengthAdjust="spacingAndGlyphs"  stroke="#131722" stroke-width="0.25">23</text>
<text x="456.8" y="500.8" font-size="11.5" fill="#131722" font-weight="normal" text-anchor="middle" textLength="12.6" lengthAdjust="spacingAndGlyphs"  stroke="#131722" stroke-width="0.25">25</text>
<text x="555.8" y="500.8" font-size="11.5" fill="#131722" font-weight="normal" text-anchor="middle" textLength="12.6" lengthAdjust="spacingAndGlyphs"  stroke="#131722" stroke-width="0.25">27</text>
<text x="655.8" y="500.8" font-size="11.5" fill="#131722" font-weight="normal" text-anchor="middle" textLength="12.6" lengthAdjust="spacingAndGlyphs"  stroke="#131722" stroke-width="0.25">29</text>
<text x="744.6" y="500.8" font-size="12" fill="#131722" font-weight="normal" text-anchor="start" textLength="21.2" lengthAdjust="spacingAndGlyphs" stroke="#131722" stroke-width="0.4">Dec</text>
<text x="853.8" y="500.8" font-size="11.5" fill="#131722" font-weight="normal" text-anchor="middle"  stroke="#131722" stroke-width="0.25">3</text>
<text x="953.8" y="500.8" font-size="11.5" fill="#131722" font-weight="normal" text-anchor="middle"  stroke="#131722" stroke-width="0.25">5</text>
<text x="1052.8" y="500.8" font-size="11.5" fill="#131722" font-weight="normal" text-anchor="middle"  stroke="#131722" stroke-width="0.25">7</text>
<text x="1151.8" y="500.8" font-size="11.5" fill="#131722" font-weight="normal" text-anchor="middle"  stroke="#131722" stroke-width="0.25">9</text>
<rect x="1206" y="219" width="43" height="34" rx="2" fill="#2196f3"/>
<rect x="1206" y="288" width="43" height="16.5" rx="2" fill="#2196f3"/>
<rect x="1206" y="337" width="43" height="16.5" rx="2" fill="#2196f3"/>
<rect x="1206" y="219" width="10" height="34" fill="#2196f3"/>
<rect x="1206" y="288" width="10" height="16.5" fill="#2196f3"/>
<rect x="1206" y="337" width="10" height="16.5" fill="#2196f3"/>
<rect x="1206" y="253" width="60" height="30.7" rx="2" fill="#089981"/>
<rect x="1206" y="253" width="10" height="30.7" fill="#089981"/>
<rect x="1148" y="253.4" width="57" height="16.4" rx="2" fill="#089981"/>
<text x="1214.3" y="232.3" font-size="12" fill="#fff" font-weight="normal" text-anchor="start" textLength="29.3" lengthAdjust="spacingAndGlyphs" stroke="#fff" stroke-width="0.5">13.53</text>
<text x="1214.3" y="249" font-size="12" fill="#fff" font-weight="normal" text-anchor="start" textLength="29.3" lengthAdjust="spacingAndGlyphs" stroke="#fff" stroke-width="0.5">13.47</text>
<text x="1214.3" y="300.8" font-size="12" fill="#fff" font-weight="normal" text-anchor="start" textLength="29.3" lengthAdjust="spacingAndGlyphs" stroke="#fff" stroke-width="0.5">13.08</text>
<text x="1214.3" y="349.8" font-size="12" fill="#fff" font-weight="normal" text-anchor="start" textLength="29.3" lengthAdjust="spacingAndGlyphs" stroke="#fff" stroke-width="0.5">12.65</text>
<text x="1214.3" y="266" font-size="12" fill="#fff" font-weight="normal" text-anchor="start" textLength="29.3" lengthAdjust="spacingAndGlyphs" stroke="#fff" stroke-width="0.5">13.39</text>
<text x="1214.3" y="279.8" font-size="12" fill="#fff" font-weight="normal" text-anchor="start" textLength="46.5" lengthAdjust="spacingAndGlyphs" fill-opacity="0.72" stroke="#fff" stroke-opacity="0.72" stroke-width="0.45">01:03:40</text>
<text x="1152.5" y="266" font-size="12" fill="#fff" font-weight="normal" text-anchor="start" textLength="48.5" lengthAdjust="spacingAndGlyphs" stroke="#fff" stroke-width="0.5">ETCUSDT</text>
<rect x="1208.5" y="31" width="58.5" height="26" rx="4" fill="#fff" stroke="#eff0f2" stroke-width="1.3"/>
<text x="1218.4" y="48.8" font-size="12" fill="#131722" font-weight="normal" text-anchor="start" textLength="26.8" lengthAdjust="spacingAndGlyphs"  stroke="#131722" stroke-width="0.25">USDT</text>
<text x="9.6" y="18.6" font-size="12" fill="#131722" font-weight="normal" text-anchor="start" textLength="88.4" lengthAdjust="spacingAndGlyphs"  stroke="#131722" stroke-width="0.25">atefeghazihesari</text>
<text x="101.9" y="18.6" font-size="12" fill="#131722" font-weight="normal" text-anchor="start" textLength="41.6" lengthAdjust="spacingAndGlyphs"  stroke="#131722" stroke-width="0.25">created</text>
<text x="147.6" y="18.6" font-size="12" fill="#131722" font-weight="normal" text-anchor="start" textLength="23.3" lengthAdjust="spacingAndGlyphs"  stroke="#131722" stroke-width="0.25">with</text>
<text x="175.3" y="18.6" font-size="12" fill="#131722" font-weight="normal" text-anchor="start" textLength="94.4" lengthAdjust="spacingAndGlyphs"  stroke="#131722" stroke-width="0.25">TradingView.com,</text>
<text x="273" y="18.6" font-size="12" fill="#131722" font-weight="normal" text-anchor="start" textLength="21" lengthAdjust="spacingAndGlyphs"  stroke="#131722" stroke-width="0.25">Dec</text>
<text x="297.7" y="18.6" font-size="12" fill="#131722" font-weight="normal" text-anchor="start" textLength="16" lengthAdjust="spacingAndGlyphs"  stroke="#131722" stroke-width="0.25">07,</text>
<text x="317.3" y="18.6" font-size="12" fill="#131722" font-weight="normal" text-anchor="start" textLength="24.7" lengthAdjust="spacingAndGlyphs"  stroke="#131722" stroke-width="0.25">2025</text>
<text x="346.4" y="18.6" font-size="12" fill="#131722" font-weight="normal" text-anchor="start" textLength="29.5" lengthAdjust="spacingAndGlyphs"  stroke="#131722" stroke-width="0.25">22:26</text>
<text x="379.6" y="18.6" font-size="12" fill="#131722" font-weight="normal" text-anchor="start" textLength="51.6" lengthAdjust="spacingAndGlyphs"  stroke="#131722" stroke-width="0.25">UTC+3:30</text>
<circle cx="1086.5" cy="470.5" r="11" fill="#fff"/>
<circle cx="1086.5" cy="470.5" r="9.8" fill="#fff" stroke="#9c27b0" stroke-width="1.5"/>
<path d="M1089.8 464.9 L1082.3 470.5 L1086.3 471 L1083.2 475.8 L1090.5 470.3 L1086.7 469.8 Z" fill="#9c27b0" stroke="#9c27b0" stroke-width="0.5" stroke-linejoin="round"/>
<g fill="#131722">
<path d="M12 533.2 H24 V548 H18 V539.5 H12 Z"/>
<circle cx="28.9" cy="536.1" r="2.9"/>
<path d="M33.8 533.2 H41.8 L36.2 548 H28.9 Z"/>
</g>
<text x="49.3" y="548" font-size="20.6" fill="#131722" font-weight="bold" text-anchor="start" textLength="120.1" lengthAdjust="spacingAndGlyphs"  stroke="#131722" stroke-width="0.25">TradingView</text>
</g>
</svg>
</body></html>
